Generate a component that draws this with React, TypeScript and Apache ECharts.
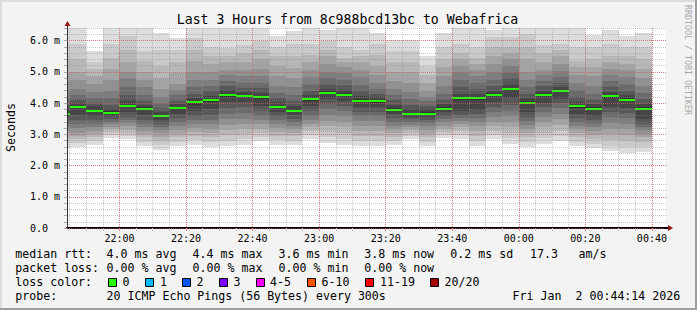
import React, { useEffect, useRef } from 'react';
import * as echarts from 'echarts';

// ---- data ----
const barEnds = ['21:45','21:50','21:55','22:00','22:05','22:10','22:15','22:20','22:25','22:30','22:35','22:40','22:45','22:50','22:55','23:00','23:05','23:10','23:15','23:20','23:25','23:30','23:35','23:40','23:45','23:50','23:55','00:00','00:05','00:10','00:15','00:20','00:25','00:30','00:35','00:40'];
const timeLabels = ['22:00','22:20','22:40','23:00','23:20','23:40','00:00','00:20','00:40'];
const majorY = [0, 1, 2, 3, 4, 5, 6];
const medians = [3.66,3.88,3.76,3.69,3.90,3.82,3.58,3.83,4.02,4.09,4.25,4.22,4.18,3.88,3.76,4.12,4.33,4.27,4.08,4.05,3.79,3.65,3.66,3.82,4.15,4.15,4.27,4.44,4.01,4.27,4.38,3.89,3.82,4.21,4.11,3.82];
// 20 sorted ping times (ms) per 5-minute step
const pings = [
 [2.55,2.72,2.88,3.00,3.12,3.24,3.34,3.44,3.54,3.62,3.70,3.80,3.95,4.15,4.40,4.70,5.00,5.40,5.90,6.80],
 [2.58,2.72,2.85,2.95,3.05,3.20,3.32,3.45,3.62,3.84,3.92,4.00,4.10,4.25,4.45,4.75,5.00,5.40,5.90,6.90],
 [2.67,2.80,2.92,3.02,3.12,3.22,3.32,3.45,3.60,3.72,3.80,3.90,4.00,4.15,4.35,4.60,4.85,5.10,5.30,5.66],
 [2.88,2.98,3.08,3.16,3.24,3.32,3.40,3.48,3.58,3.65,3.73,3.82,3.95,4.15,4.40,4.75,5.10,5.45,5.90,6.90],
 [2.84,2.95,3.05,3.15,3.25,3.35,3.45,3.55,3.70,3.86,3.94,4.05,4.25,4.50,4.80,5.00,5.30,5.70,6.14,6.90],
 [2.61,2.76,2.90,3.02,3.12,3.22,3.33,3.45,3.62,3.78,3.86,3.95,4.08,4.25,4.50,4.75,5.00,5.35,5.66,6.90],
 [2.51,2.66,2.80,2.92,3.03,3.13,3.23,3.33,3.45,3.54,3.62,3.72,3.84,4.00,4.20,4.44,4.80,5.20,5.70,6.25],
 [2.61,2.76,2.90,3.02,3.14,3.26,3.38,3.52,3.66,3.79,3.87,3.96,4.08,4.25,4.42,4.60,4.95,5.30,5.70,6.08],
 [2.67,2.82,2.96,3.08,3.20,3.32,3.45,3.60,3.76,3.95,4.06,4.15,4.30,4.50,4.75,5.00,5.34,5.70,6.08,6.90],
 [2.58,2.74,2.90,3.04,3.18,3.32,3.46,3.62,3.80,4.03,4.13,4.22,4.38,4.55,4.75,5.00,5.25,5.50,5.80,6.90],
 [2.61,2.80,2.98,3.14,3.30,3.48,3.66,3.84,4.02,4.20,4.30,4.42,4.56,4.72,4.90,5.05,5.30,5.50,5.76,6.90],
 [2.67,2.85,3.00,3.16,3.32,3.50,3.68,3.86,4.02,4.18,4.26,4.34,4.48,4.65,4.85,5.05,5.30,5.60,5.87,6.90],
 [2.77,2.92,3.05,3.18,3.32,3.46,3.60,3.76,3.90,4.12,4.22,4.32,4.48,4.65,4.85,5.10,5.40,5.70,5.98,6.90],
 [2.67,2.82,2.96,3.08,3.20,3.32,3.45,3.60,3.72,3.84,3.92,4.02,4.15,4.32,4.55,4.85,5.20,5.50,5.80,6.14],
 [2.67,2.80,2.93,3.05,3.17,3.28,3.40,3.50,3.62,3.72,3.80,3.90,4.05,4.25,4.50,4.80,5.12,5.50,5.90,6.30],
 [2.84,2.98,3.10,3.22,3.34,3.46,3.60,3.74,3.90,4.08,4.16,4.26,4.40,4.60,4.82,5.05,5.30,5.55,5.90,6.90],
 [2.72,2.90,3.08,3.26,3.44,3.62,3.80,3.98,4.14,4.29,4.37,4.46,4.60,4.80,5.00,5.25,5.50,5.70,6.00,6.35],
 [2.67,2.86,3.04,3.22,3.40,3.58,3.76,3.92,4.06,4.23,4.31,4.42,4.58,4.75,4.95,5.15,5.30,5.45,5.80,6.90],
 [2.61,2.78,2.94,3.10,3.26,3.42,3.57,3.72,3.86,4.04,4.12,4.22,4.38,4.58,4.82,5.05,5.30,5.50,5.70,6.90],
 [2.63,2.80,2.96,3.12,3.28,3.44,3.58,3.72,3.88,4.01,4.09,4.18,4.30,4.45,4.65,4.90,5.20,5.55,5.90,6.25],
 [2.67,2.80,2.92,3.04,3.16,3.28,3.40,3.52,3.64,3.75,3.83,3.95,4.10,4.25,4.45,4.70,5.00,5.30,5.65,6.03],
 [2.84,2.94,3.04,3.13,3.22,3.31,3.40,3.48,3.56,3.61,3.69,3.80,3.95,4.12,4.35,4.65,5.00,5.30,5.65,6.03],
 [2.63,2.76,2.90,3.02,3.14,3.25,3.35,3.45,3.55,3.62,3.70,3.80,3.92,4.05,4.20,4.40,4.65,4.90,5.20,5.50],
 [2.88,2.98,3.08,3.18,3.28,3.38,3.48,3.58,3.70,3.78,3.86,3.96,4.10,4.30,4.55,4.85,5.15,5.40,5.80,6.25],
 [2.84,2.98,3.10,3.22,3.34,3.44,3.53,3.62,3.75,4.10,4.20,4.30,4.50,4.75,5.00,5.20,5.40,5.60,5.90,6.90],
 [2.63,2.80,2.96,3.12,3.26,3.40,3.52,3.64,3.78,4.10,4.20,4.30,4.45,4.65,4.85,5.05,5.25,5.45,5.80,6.90],
 [2.84,2.98,3.12,3.26,3.40,3.56,3.72,3.88,4.04,4.23,4.31,4.40,4.55,4.75,5.00,5.25,5.50,5.80,6.10,6.35],
 [2.70,2.88,3.05,3.22,3.40,3.58,3.76,3.95,4.15,4.40,4.48,4.60,4.80,5.00,5.20,5.40,5.60,5.80,6.10,6.90],
 [2.58,2.74,2.90,3.04,3.18,3.30,3.42,3.54,3.70,3.97,4.05,4.15,4.30,4.50,4.75,5.00,5.40,5.80,6.20,6.90],
 [2.70,2.88,3.05,3.22,3.40,3.56,3.72,3.86,4.00,4.23,4.31,4.40,4.55,4.72,4.90,5.05,5.30,5.60,5.87,6.90],
 [2.77,2.95,3.12,3.30,3.48,3.66,3.84,4.00,4.14,4.34,4.42,4.52,4.65,4.82,5.02,5.25,5.50,5.70,5.90,6.90],
 [2.61,2.76,2.90,3.03,3.16,3.28,3.40,3.52,3.66,3.85,3.93,4.03,4.20,4.42,4.65,4.90,5.15,5.35,5.80,6.90],
 [2.56,2.70,2.84,2.98,3.10,3.22,3.34,3.46,3.60,3.78,3.86,3.96,4.10,4.30,4.55,4.85,5.15,5.40,5.80,6.19],
 [2.45,2.64,2.82,3.00,3.18,3.36,3.54,3.70,3.86,4.17,4.25,4.35,4.50,4.70,4.90,5.10,5.30,5.50,5.90,6.35],
 [2.40,2.60,2.80,2.98,3.16,3.34,3.52,3.68,3.84,4.07,4.15,4.25,4.40,4.60,4.82,5.05,5.25,5.50,5.80,6.14],
 [2.42,2.60,2.76,2.90,3.02,3.14,3.24,3.34,3.50,3.78,3.86,3.96,4.12,4.32,4.55,4.80,5.10,5.40,5.80,6.25],
];
const startTime = '21:44:14';
const endTime = '00:44:14';
const stepMinutes = 5;
const yMax = 6.4;
const yStep = 0.2;

const lossLegend = [
  { label: '0', color: '#26ff00' },
  { label: '1', color: '#00b8ff' },
  { label: '2', color: '#0059ff' },
  { label: '3', color: '#7e00ff' },
  { label: '4-5', color: '#ff00ff' },
  { label: '6-10', color: '#ff5500' },
  { label: '11-19', color: '#ff0000' },
  { label: '20/20', color: '#a10000' },
];

// ---- helpers ----
function toMin(s: string): number {
  const parts = s.split(':').map(Number);
  let h = parts[0];
  if (h < 21) h += 24;
  return (h - 21) * 60 + parts[1] + (parts[2] || 0) / 60;
}
function fmtTime(v: number): string {
  const tot = Math.round(v);
  const h = (21 + Math.floor(tot / 60)) % 24;
  const m = tot % 60;
  return String(h).padStart(2, '0') + ':' + String(m).padStart(2, '0');
}

const SMOKE = ['#dddddd','#cacaca','#b7b7b7','#a4a4a4','#919191','#7e7e7e','#6b6b6b','#585858','#454545','#323232'];
const MONO = "'DejaVu Sans Mono', monospace";
const GRAY = 'rgba(143,143,143,0.5)';
const RED = 'rgba(222,80,80,0.6)';

export default function App() {
  const ref = useRef<HTMLDivElement>(null);
  useEffect(() => {
    document.body.style.margin = '0';
    if (!ref.current) return;
    const chart = echarts.init(ref.current, undefined, { renderer: 'svg' });
    const xMin = toMin(startTime);
    const xMax = toMin(endTime);
    const tickVals = barEnds.map(toMin);
    const labelVals = timeLabels.map(toMin);
    const data = barEnds.map((t, i) => [toMin(t), medians[i], ...pings[i]]);

    const renderItem = (params: any, api: any) => {
      const cs = params.coordSys;
      const t1 = api.value(0);
      const t0 = t1 - stepMinutes;
      const xL = Math.round(Math.max(api.coord([t0, 0])[0], cs.x));
      const xR = Math.round(Math.min(api.coord([t1, 0])[0], cs.x + cs.width));
      const children: any[] = [];
      if (xR <= xL) return { type: 'group', children };
      for (let k = 0; k < 10; k++) {
        const lo = api.value(2 + k);
        const hi = api.value(21 - k);
        let yTop = api.coord([t1, hi])[1];
        let yBot = api.coord([t1, lo])[1];
        yTop = Math.round(Math.max(yTop, cs.y));
        yBot = Math.round(Math.min(yBot, cs.y + cs.height));
        if (yBot > yTop) {
          children.push({ type: 'rect', shape: { x: xL, y: yTop, width: xR - xL, height: yBot - yTop }, style: { fill: SMOKE[k] } });
        }
      }
      const ym = Math.round(api.coord([t1, api.value(1)])[1]);
      children.push({ type: 'rect', shape: { x: xL, y: ym - 1, width: xR - xL, height: 2 }, style: { fill: '#26ff00' } });
      return { type: 'group', children };
    };

    const txt = (x: number, y: number, text: string, extra: any = {}) => ({
      type: 'text', x, y, silent: true,
      style: { text, fill: '#000', fontFamily: MONO, fontSize: 11.6, verticalAlign: 'middle', align: 'left', ...extra },
    });

    const legendY = [254, 268, 282, 296];
    const boxX = [108.5, 145.5, 182.5, 219.5, 256.5, 307.5, 365.5, 430.5];
    const boxLabelX = [122.6, 160, 196.6, 233.6, 270, 321.6, 380, 444.6];

    const graphics: any[] = [
      { type: 'rect', shape: { x: 0, y: 0, width: 697, height: 2 }, style: { fill: '#dcdcdc' }, silent: true },
      { type: 'rect', shape: { x: 0, y: 0, width: 2, height: 310 }, style: { fill: '#dcdcdc' }, silent: true },
      { type: 'rect', shape: { x: 695, y: 0, width: 2, height: 310 }, style: { fill: '#9e9e9e' }, silent: true },
      { type: 'rect', shape: { x: 0, y: 308, width: 697, height: 2 }, style: { fill: '#9e9e9e' }, silent: true },
      { type: 'line', shape: { x1: 67.5, y1: 28.5, x2: 67.5, y2: 25 }, style: { stroke: '#333', lineWidth: 1 }, silent: true, z: 20 },
      { type: 'polygon', shape: { points: [[64.5, 26], [70.5, 26], [67.5, 21]] }, style: { fill: '#951515' }, silent: true, z: 20 },
      { type: 'line', shape: { x1: 665, y1: 228, x2: 669, y2: 228 }, style: { stroke: '#000', lineWidth: 2 }, silent: true, z: 20 },
      { type: 'polygon', shape: { points: [[668, 225], [668, 231], [673, 228]] }, style: { fill: '#951515' }, silent: true, z: 20 },
      txt(347.5, 19.5, 'Last 3 Hours from 8c988bcd13bc to Webafrica', { fontSize: 13.2, align: 'center' }),
      { type: 'text', x: 11, y: 127.5, rotation: Math.PI / 2, silent: true,
        style: { text: 'Seconds', fill: '#000', fontFamily: MONO, fontSize: 11.6, align: 'center', verticalAlign: 'middle' } },
      { type: 'text', x: 688, y: 60, rotation: -Math.PI / 2, silent: true,
        style: { text: 'RRDTOOL / TOBI OETIKER', fill: '#a8a8a8', fontFamily: MONO, fontSize: 8.3, align: 'center', verticalAlign: 'middle' } },
      txt(15.3, legendY[0], 'median rtt:'),
      txt(106.6, legendY[0], '4.0 ms avg'),
      txt(192.6, legendY[0], '4.4 ms max'),
      txt(278.6, legendY[0], '3.6 ms min'),
      txt(364.3, legendY[0], '3.8 ms now'),
      txt(450.3, legendY[0], '0.2 ms sd'),
      txt(530, legendY[0], '17.3'),
      txt(578.6, legendY[0], 'am/s'),
      txt(15.3, legendY[1], 'packet loss:'),
      txt(106.6, legendY[1], '0.00 % avg'),
      txt(192.6, legendY[1], '0.00 % max'),
      txt(278.6, legendY[1], '0.00 % min'),
      txt(364.3, legendY[1], '0.00 % now'),
      txt(15.3, legendY[2], 'loss color:'),
      txt(15.3, legendY[3], 'probe:'),
      txt(106.6, legendY[3], '20 ICMP Echo Pings (56 Bytes) every 300s'),
      txt(512.6, legendY[3], 'Fri Jan'),
      txt(575.5, legendY[3], '2 00:44:14 2026'),
    ];
    lossLegend.forEach((l, i) => {
      graphics.push({ type: 'rect', silent: true, shape: { x: boxX[i], y: 278.5, width: 8, height: 8 }, style: { fill: l.color, stroke: '#000', lineWidth: 1 } });
      graphics.push(txt(boxLabelX[i], legendY[2], l.label));
    });

    chart.setOption({
      animation: false,
      backgroundColor: '#f3f3f3',
      grid: { left: 67, right: 31, top: 28, bottom: 82, show: true, backgroundColor: '#ffffff', borderWidth: 0 },
      xAxis: [
        {
          type: 'value', min: xMin, max: xMax, z: 10,
          axisLine: { show: true, lineStyle: { color: '#000', width: 2 } },
          axisTick: { show: true, customValues: tickVals, length: 3, lineStyle: { color: '#c8c8c8' } },
          axisLabel: { customValues: labelVals, formatter: (v: number) => fmtTime(v), fontFamily: MONO, fontSize: 10, color: '#000', margin: 5 },
          splitLine: { show: true, lineStyle: { color: GRAY, type: [1, 1], width: 1 } },
        },
        {
          type: 'value', min: xMin, max: xMax, z: 11, position: 'bottom',
          axisLine: { show: false },
          axisTick: { show: true, customValues: labelVals, length: 3, lineStyle: { color: '#e88' } },
          axisLabel: { show: false },
          splitLine: { show: true, lineStyle: { color: RED, type: [1, 1], width: 1 } },
        },
      ],
      yAxis: [
        {
          type: 'value', min: 0, max: yMax, interval: yStep, z: 10,
          axisLine: { show: true, lineStyle: { color: '#333', width: 1 } },
          axisTick: { show: true, length: 3, lineStyle: { color: '#aaa' } },
          axisLabel: {
            fontFamily: MONO, fontSize: 10, color: '#000', margin: 7,
            formatter: (v: number) => {
              if (Math.abs(v - Math.round(v)) > 1e-6) return '';
              if (Math.round(v) === 0) return '{z|0.0}';
              return v.toFixed(1) + ' m';
            },
            rich: { z: { fontFamily: MONO, fontSize: 10, color: '#000', padding: [0, 12, 0, 0] } },
          },
          splitLine: { show: true, lineStyle: { color: GRAY, type: [1, 1], width: 1 } },
        },
        {
          type: 'value', min: 0, max: yMax, z: 11, position: 'left',
          axisLine: { show: false },
          axisTick: { show: false, customValues: majorY },
          axisLabel: { show: false },
          splitLine: { show: true, lineStyle: { color: RED, type: [1, 1], width: 1 } },
        },
      ],
      series: [
        { type: 'custom', renderItem, data, z: 2, xAxisIndex: 0, yAxisIndex: 0, encode: { x: 0, y: 1 }, silent: true },
      ],
      graphic: graphics,
    });
    return () => chart.dispose();
  }, []);
  return <div ref={ref} style={{ width: 697, height: 310 }} />;
}
